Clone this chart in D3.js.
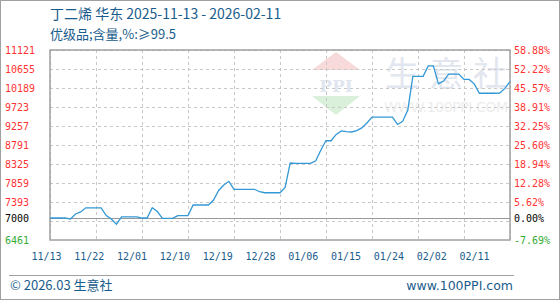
<!DOCTYPE html>
<html>
<head>
<meta charset="utf-8">
<script src="https://cdn.jsdelivr.net/npm/d3@7"></script>
<style>
  body { margin: 0; background: #fff; }
  svg { display: block; }
</style>
</head>
<body>
<script>
// daily prices, 2025-11-13 .. 2026-02-11
var prices = [
    7000, 7000, 7000, 7000, 6975, 7100, 7150, 7250, 7250, 7250,
    7250, 7060, 6975, 6850, 7030, 7030, 7030, 7030, 7000, 7000,
    7250, 7160, 6990, 6990, 6990, 7060, 7060, 7060, 7320, 7320,
    7320, 7320, 7440, 7675, 7810, 7900, 7705, 7705, 7705, 7705,
    7705, 7645, 7620, 7620, 7620, 7620, 7750, 8350, 8340, 8340,
    8340, 8340, 8405, 8670, 8900, 8895, 9050, 9135, 9120, 9110,
    9145, 9210, 9330, 9475, 9475, 9475, 9475, 9475, 9295, 9370,
    9650, 10475, 10475, 10475, 10730, 10730, 10290, 10360, 10530, 10530,
    10530, 10400, 10400, 10290, 10060, 10060, 10060, 10060, 10065, 10180,
    10345
];
var startDate = new Date(2025, 10, 13);
var endDate = new Date(2026, 1, 11);
var dates = d3.timeDay.range(startDate, d3.timeDay.offset(endDate, 1));

var xLabels = ['11/13', '11/22', '12/01', '12/10', '12/19', '12/28', '01/06', '01/15', '01/24', '02/02', '02/11'];
var yLabels = ['11121', '10655', '10189', '9723', '9257', '8791', '8325', '7859', '7393', '7000', '6461'];
var yLabelValues = [11121, 10655, 10189, 9723, 9257, 8791, 8325, 7859, 7393, 7000, 6461];
var pctLabels = ['58.88%', '52.22%', '45.57%', '38.91%', '32.25%', '25.60%', '18.94%', '12.28%', '5.62%', '0.00%', '-7.69%'];
var gridValues = [11121, 10655, 10189, 9723, 9257, 8791, 8325, 7859, 7393, 6927];
var baseValue = 7000;
var yMin = 6461, yMax = 11121;

var blue = '#1a5c8c';
var red = '#f33';
var green = '#3a3';
var monoFont = '"DejaVu Sans Mono", monospace';
var cjkFont = '"Noto Sans CJK SC", "Noto Sans", sans-serif';

window.document.addEventListener('DOMContentLoaded', init, false);

function init() {
    var svg = d3.select('body').append('svg')
        .attr('width', 560)
        .attr('height', 300);

    var plot = {left: 50, top: 50, right: 510, bottom: 240};

    var x = d3.scaleTime()
        .domain([startDate, endDate])
        .range([plot.left, plot.right]);
    var y = d3.scaleLinear()
        .domain([yMin, yMax])
        .range([plot.bottom, plot.top]);

    svg.append('rect')
        .attr('x', 0.5).attr('y', 0.5)
        .attr('width', 559).attr('height', 299)
        .attr('fill', '#fff')
        .attr('stroke', '#a0a0a0');

    drawWatermark(svg);

    // horizontal grid
    svg.append('g').selectAll('line')
        .data(gridValues)
        .enter()
            .append('line')
            .attr('x1', plot.left).attr('x2', plot.right)
            .attr('y1', (d) => Math.round(y(d)) + 0.5)
            .attr('y2', (d) => Math.round(y(d)) + 0.5)
            .attr('stroke', '#c8c8c8')
            .attr('stroke-dasharray', '3,3');

    // vertical grid, every 9 days
    var gridDates = d3.range(0, 91, 9).map((i) => d3.timeDay.offset(startDate, i));
    svg.append('g').selectAll('line')
        .data(gridDates)
        .enter()
            .append('line')
            .attr('x1', (d) => Math.round(x(d)) + 0.5)
            .attr('x2', (d) => Math.round(x(d)) + 0.5)
            .attr('y1', plot.top).attr('y2', plot.bottom)
            .attr('stroke', '#c8c8c8')
            .attr('stroke-dasharray', '3,3');

    // base line
    svg.append('line')
        .attr('x1', plot.left).attr('x2', plot.right)
        .attr('y1', Math.round(y(baseValue)) + 0.5)
        .attr('y2', Math.round(y(baseValue)) + 0.5)
        .attr('stroke', '#999')
        .attr('stroke-width', 1.2);

    // frame
    svg.append('rect')
        .attr('x', plot.left).attr('y', plot.top)
        .attr('width', plot.right - plot.left)
        .attr('height', plot.bottom - plot.top)
        .attr('fill', 'none')
        .attr('stroke', '#a0a0a0')
        .attr('stroke-width', 1.5);

    // price line
    var line = d3.line()
        .x((d, i) => x(dates[i]))
        .y((d) => y(d));
    svg.append('path')
        .datum(prices)
        .attr('fill', 'none')
        .attr('stroke', '#3398d6')
        .attr('stroke-width', 1.3)
        .attr('d', line);

    // y labels left
    var labelColor = (v) => v === baseValue ? '#000' : (v < baseValue ? green : red);
    svg.append('g').selectAll('text')
        .data(yLabelValues)
        .enter()
            .append('text')
            .attr('x', 5)
            .attr('y', (d) => y(d) + 3.5)
            .attr('font-family', monoFont)
            .attr('font-size', 10)
            .attr('fill', labelColor)
            .text((d, i) => yLabels[i]);

    // percent labels right
    svg.append('g').selectAll('text')
        .data(yLabelValues)
        .enter()
            .append('text')
            .attr('x', 514)
            .attr('y', (d) => y(d) + 3.5)
            .attr('font-family', monoFont)
            .attr('font-size', 10)
            .attr('fill', labelColor)
            .text((d, i) => pctLabels[i]);

    // x labels
    var xl = d3.scalePoint().domain(xLabels).range([46.5, 474.5]);
    svg.append('g').selectAll('text')
        .data(xLabels)
        .enter()
            .append('text')
            .attr('x', (d) => xl(d))
            .attr('y', 260)
            .attr('text-anchor', 'middle')
            .attr('font-family', monoFont)
            .attr('font-size', 10)
            .attr('fill', blue)
            .text((d) => d);

    // titles
    svg.append('text')
        .attr('x', 50).attr('y', 19)
        .attr('font-family', cjkFont)
        .attr('font-size', 14)
        .attr('fill', blue)
        .text('丁二烯 华东 2025-11-13 - 2026-02-11');
    svg.append('text')
        .attr('x', 50).attr('y', 39)
        .attr('font-family', cjkFont)
        .attr('font-size', 13)
        .attr('fill', blue)
        .text('优级品;含量,%:≥99.5');

    // footer
    svg.append('line')
        .attr('x1', 9).attr('x2', 514)
        .attr('y1', 275.5).attr('y2', 275.5)
        .attr('stroke', '#a0a0a0');
    svg.append('text')
        .attr('x', 10).attr('y', 290)
        .attr('font-family', cjkFont)
        .attr('font-size', 13)
        .attr('fill', blue)
        .text('© 2026.03 生意社');
    svg.append('text')
        .attr('x', 513).attr('y', 290)
        .attr('text-anchor', 'end')
        .attr('font-family', '"DejaVu Sans", sans-serif')
        .attr('font-size', 12.5)
        .attr('fill', blue)
        .text('www.100PPI.com');
}

function drawWatermark(svg) {
    var g = svg.append('g').attr('opacity', 0.9);
    g.append('path')
        .attr('d', 'M336,52 L360,70 L312,70 Z')
        .attr('fill', '#f8d6d6');
    g.append('text')
        .attr('x', 336).attr('y', 92)
        .attr('text-anchor', 'middle')
        .attr('font-family', '"DejaVu Serif", serif')
        .attr('font-weight', 'bold')
        .attr('font-size', 17)
        .attr('fill', '#dde3ef')
        .text('PPI');
    g.append('path')
        .attr('d', 'M312,96 L360,96 L336,115 Z')
        .attr('fill', '#d8efd8');
    var chars = ['生', '意', '社'];
    g.selectAll('.wm')
        .data(chars)
        .enter()
            .append('text')
            .attr('class', 'wm')
            .attr('x', (d, i) => 385 + i * 44)
            .attr('y', 86)
            .attr('font-family', cjkFont)
            .attr('font-size', 34)
            .attr('fill', '#dfe4ee')
            .text((d) => d);
    g.append('text')
        .attr('x', 384).attr('y', 112)
        .attr('textLength', 124)
        .attr('font-family', '"DejaVu Sans", sans-serif')
        .attr('font-size', 14)
        .attr('fill', '#ececec')
        .text('WWW.100PPI.COM');
}
</script>
</body>
</html>
